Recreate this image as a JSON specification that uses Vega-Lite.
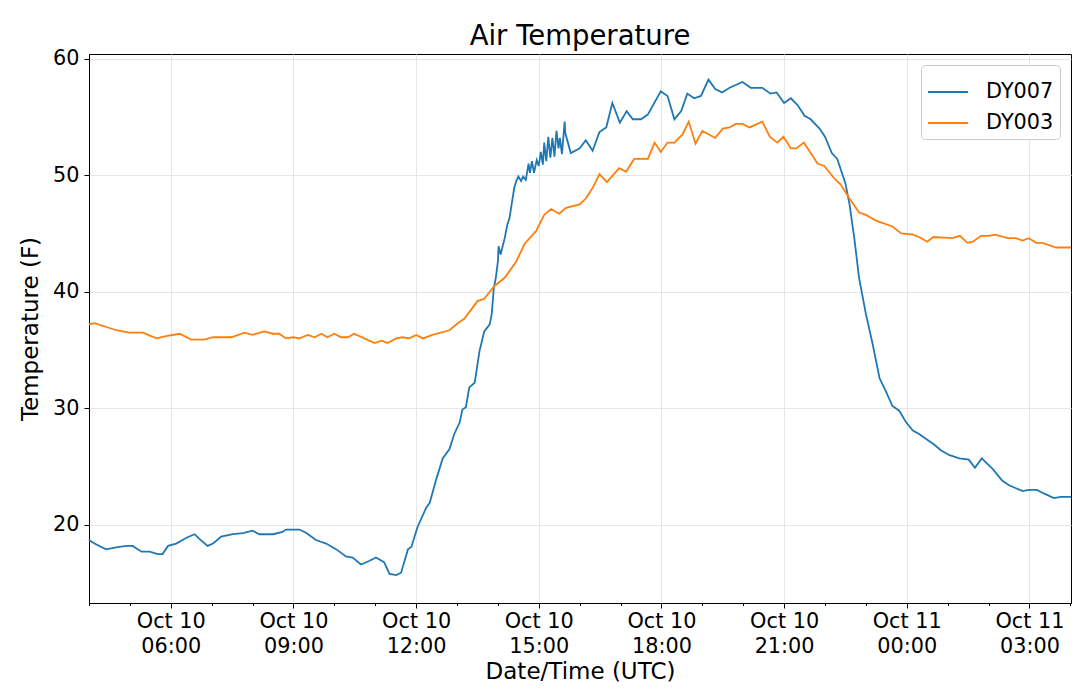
{
  "$schema": "https://vega.github.io/schema/vega-lite/v6.json",
  "width": 982,
  "height": 549,
  "autosize": "none",
  "padding": {"left": 89, "top": 54, "right": 9, "bottom": 94},
  "background": "white",
  "title": {
    "text": "Air Temperature",
    "fontSize": 27.5,
    "fontWeight": "normal",
    "color": "black",
    "anchor": "middle",
    "offset": -3
  },
  "data": {
    "format": {"parse": {"time": "utc:'%Y-%m-%d %H:%M'", "temp": "number"}},
    "values": [
      {"time": "2019-10-10 04:00", "temp": 18.7, "sensor": "DY007"},
      {"time": "2019-10-10 04:08", "temp": 18.4, "sensor": "DY007"},
      {"time": "2019-10-10 04:25", "temp": 17.9, "sensor": "DY007"},
      {"time": "2019-10-10 04:42", "temp": 18.1, "sensor": "DY007"},
      {"time": "2019-10-10 04:55", "temp": 18.2, "sensor": "DY007"},
      {"time": "2019-10-10 05:04", "temp": 18.2, "sensor": "DY007"},
      {"time": "2019-10-10 05:17", "temp": 17.7, "sensor": "DY007"},
      {"time": "2019-10-10 05:29", "temp": 17.7, "sensor": "DY007"},
      {"time": "2019-10-10 05:41", "temp": 17.5, "sensor": "DY007"},
      {"time": "2019-10-10 05:48", "temp": 17.5, "sensor": "DY007"},
      {"time": "2019-10-10 05:56", "temp": 18.2, "sensor": "DY007"},
      {"time": "2019-10-10 06:08", "temp": 18.4, "sensor": "DY007"},
      {"time": "2019-10-10 06:23", "temp": 18.9, "sensor": "DY007"},
      {"time": "2019-10-10 06:35", "temp": 19.2, "sensor": "DY007"},
      {"time": "2019-10-10 06:42", "temp": 18.8, "sensor": "DY007"},
      {"time": "2019-10-10 06:54", "temp": 18.2, "sensor": "DY007"},
      {"time": "2019-10-10 07:02", "temp": 18.4, "sensor": "DY007"},
      {"time": "2019-10-10 07:14", "temp": 19.0, "sensor": "DY007"},
      {"time": "2019-10-10 07:31", "temp": 19.2, "sensor": "DY007"},
      {"time": "2019-10-10 07:46", "temp": 19.3, "sensor": "DY007"},
      {"time": "2019-10-10 08:00", "temp": 19.5, "sensor": "DY007"},
      {"time": "2019-10-10 08:10", "temp": 19.2, "sensor": "DY007"},
      {"time": "2019-10-10 08:30", "temp": 19.2, "sensor": "DY007"},
      {"time": "2019-10-10 08:44", "temp": 19.4, "sensor": "DY007"},
      {"time": "2019-10-10 08:49", "temp": 19.6, "sensor": "DY007"},
      {"time": "2019-10-10 09:09", "temp": 19.6, "sensor": "DY007"},
      {"time": "2019-10-10 09:19", "temp": 19.3, "sensor": "DY007"},
      {"time": "2019-10-10 09:33", "temp": 18.7, "sensor": "DY007"},
      {"time": "2019-10-10 09:48", "temp": 18.4, "sensor": "DY007"},
      {"time": "2019-10-10 10:03", "temp": 17.9, "sensor": "DY007"},
      {"time": "2019-10-10 10:17", "temp": 17.3, "sensor": "DY007"},
      {"time": "2019-10-10 10:27", "temp": 17.2, "sensor": "DY007"},
      {"time": "2019-10-10 10:39", "temp": 16.6, "sensor": "DY007"},
      {"time": "2019-10-10 10:51", "temp": 16.9, "sensor": "DY007"},
      {"time": "2019-10-10 11:01", "temp": 17.2, "sensor": "DY007"},
      {"time": "2019-10-10 11:13", "temp": 16.8, "sensor": "DY007"},
      {"time": "2019-10-10 11:21", "temp": 15.8, "sensor": "DY007"},
      {"time": "2019-10-10 11:31", "temp": 15.7, "sensor": "DY007"},
      {"time": "2019-10-10 11:38", "temp": 15.9, "sensor": "DY007"},
      {"time": "2019-10-10 11:48", "temp": 17.9, "sensor": "DY007"},
      {"time": "2019-10-10 11:53", "temp": 18.1, "sensor": "DY007"},
      {"time": "2019-10-10 12:02", "temp": 19.8, "sensor": "DY007"},
      {"time": "2019-10-10 12:15", "temp": 21.5, "sensor": "DY007"},
      {"time": "2019-10-10 12:20", "temp": 21.9, "sensor": "DY007"},
      {"time": "2019-10-10 12:29", "temp": 23.8, "sensor": "DY007"},
      {"time": "2019-10-10 12:39", "temp": 25.7, "sensor": "DY007"},
      {"time": "2019-10-10 12:49", "temp": 26.5, "sensor": "DY007"},
      {"time": "2019-10-10 12:56", "temp": 27.8, "sensor": "DY007"},
      {"time": "2019-10-10 13:04", "temp": 28.8, "sensor": "DY007"},
      {"time": "2019-10-10 13:08", "temp": 29.9, "sensor": "DY007"},
      {"time": "2019-10-10 13:13", "temp": 30.1, "sensor": "DY007"},
      {"time": "2019-10-10 13:18", "temp": 31.8, "sensor": "DY007"},
      {"time": "2019-10-10 13:26", "temp": 32.2, "sensor": "DY007"},
      {"time": "2019-10-10 13:33", "temp": 34.9, "sensor": "DY007"},
      {"time": "2019-10-10 13:40", "temp": 36.6, "sensor": "DY007"},
      {"time": "2019-10-10 13:48", "temp": 37.2, "sensor": "DY007"},
      {"time": "2019-10-10 13:51", "temp": 38.1, "sensor": "DY007"},
      {"time": "2019-10-10 13:54", "temp": 40.3, "sensor": "DY007"},
      {"time": "2019-10-10 13:57", "temp": 41.2, "sensor": "DY007"},
      {"time": "2019-10-10 14:00", "temp": 42.6, "sensor": "DY007"},
      {"time": "2019-10-10 14:01", "temp": 43.9, "sensor": "DY007"},
      {"time": "2019-10-10 14:04", "temp": 43.2, "sensor": "DY007"},
      {"time": "2019-10-10 14:10", "temp": 44.6, "sensor": "DY007"},
      {"time": "2019-10-10 14:14", "temp": 45.8, "sensor": "DY007"},
      {"time": "2019-10-10 14:17", "temp": 46.3, "sensor": "DY007"},
      {"time": "2019-10-10 14:21", "temp": 47.8, "sensor": "DY007"},
      {"time": "2019-10-10 14:24", "temp": 48.9, "sensor": "DY007"},
      {"time": "2019-10-10 14:27", "temp": 49.5, "sensor": "DY007"},
      {"time": "2019-10-10 14:30", "temp": 49.9, "sensor": "DY007"},
      {"time": "2019-10-10 14:34", "temp": 49.5, "sensor": "DY007"},
      {"time": "2019-10-10 14:37", "temp": 49.9, "sensor": "DY007"},
      {"time": "2019-10-10 14:41", "temp": 49.6, "sensor": "DY007"},
      {"time": "2019-10-10 14:45", "temp": 51.0, "sensor": "DY007"},
      {"time": "2019-10-10 14:47", "temp": 50.2, "sensor": "DY007"},
      {"time": "2019-10-10 14:50", "temp": 51.2, "sensor": "DY007"},
      {"time": "2019-10-10 14:53", "temp": 50.2, "sensor": "DY007"},
      {"time": "2019-10-10 14:57", "temp": 51.3, "sensor": "DY007"},
      {"time": "2019-10-10 15:00", "temp": 50.8, "sensor": "DY007"},
      {"time": "2019-10-10 15:03", "temp": 52.0, "sensor": "DY007"},
      {"time": "2019-10-10 15:06", "temp": 50.9, "sensor": "DY007"},
      {"time": "2019-10-10 15:08", "temp": 52.8, "sensor": "DY007"},
      {"time": "2019-10-10 15:11", "temp": 51.2, "sensor": "DY007"},
      {"time": "2019-10-10 15:14", "temp": 53.3, "sensor": "DY007"},
      {"time": "2019-10-10 15:17", "temp": 51.5, "sensor": "DY007"},
      {"time": "2019-10-10 15:20", "temp": 53.2, "sensor": "DY007"},
      {"time": "2019-10-10 15:23", "temp": 51.6, "sensor": "DY007"},
      {"time": "2019-10-10 15:26", "temp": 53.8, "sensor": "DY007"},
      {"time": "2019-10-10 15:29", "temp": 52.3, "sensor": "DY007"},
      {"time": "2019-10-10 15:31", "temp": 53.2, "sensor": "DY007"},
      {"time": "2019-10-10 15:34", "temp": 51.8, "sensor": "DY007"},
      {"time": "2019-10-10 15:38", "temp": 54.6, "sensor": "DY007"},
      {"time": "2019-10-10 15:39", "temp": 53.6, "sensor": "DY007"},
      {"time": "2019-10-10 15:47", "temp": 51.9, "sensor": "DY007"},
      {"time": "2019-10-10 16:00", "temp": 52.3, "sensor": "DY007"},
      {"time": "2019-10-10 16:09", "temp": 53.0, "sensor": "DY007"},
      {"time": "2019-10-10 16:19", "temp": 52.1, "sensor": "DY007"},
      {"time": "2019-10-10 16:29", "temp": 53.7, "sensor": "DY007"},
      {"time": "2019-10-10 16:39", "temp": 54.1, "sensor": "DY007"},
      {"time": "2019-10-10 16:48", "temp": 56.2, "sensor": "DY007"},
      {"time": "2019-10-10 16:59", "temp": 54.5, "sensor": "DY007"},
      {"time": "2019-10-10 17:09", "temp": 55.5, "sensor": "DY007"},
      {"time": "2019-10-10 17:18", "temp": 54.8, "sensor": "DY007"},
      {"time": "2019-10-10 17:30", "temp": 54.8, "sensor": "DY007"},
      {"time": "2019-10-10 17:40", "temp": 55.2, "sensor": "DY007"},
      {"time": "2019-10-10 17:59", "temp": 57.2, "sensor": "DY007"},
      {"time": "2019-10-10 18:09", "temp": 56.8, "sensor": "DY007"},
      {"time": "2019-10-10 18:19", "temp": 54.8, "sensor": "DY007"},
      {"time": "2019-10-10 18:29", "temp": 55.5, "sensor": "DY007"},
      {"time": "2019-10-10 18:38", "temp": 57.0, "sensor": "DY007"},
      {"time": "2019-10-10 18:48", "temp": 56.6, "sensor": "DY007"},
      {"time": "2019-10-10 18:58", "temp": 56.8, "sensor": "DY007"},
      {"time": "2019-10-10 19:09", "temp": 58.2, "sensor": "DY007"},
      {"time": "2019-10-10 19:19", "temp": 57.4, "sensor": "DY007"},
      {"time": "2019-10-10 19:29", "temp": 57.1, "sensor": "DY007"},
      {"time": "2019-10-10 19:40", "temp": 57.5, "sensor": "DY007"},
      {"time": "2019-10-10 19:59", "temp": 58.0, "sensor": "DY007"},
      {"time": "2019-10-10 20:11", "temp": 57.5, "sensor": "DY007"},
      {"time": "2019-10-10 20:28", "temp": 57.5, "sensor": "DY007"},
      {"time": "2019-10-10 20:40", "temp": 57.0, "sensor": "DY007"},
      {"time": "2019-10-10 20:49", "temp": 57.1, "sensor": "DY007"},
      {"time": "2019-10-10 21:00", "temp": 56.2, "sensor": "DY007"},
      {"time": "2019-10-10 21:10", "temp": 56.6, "sensor": "DY007"},
      {"time": "2019-10-10 21:20", "temp": 56.0, "sensor": "DY007"},
      {"time": "2019-10-10 21:30", "temp": 55.1, "sensor": "DY007"},
      {"time": "2019-10-10 21:39", "temp": 54.8, "sensor": "DY007"},
      {"time": "2019-10-10 21:52", "temp": 54.0, "sensor": "DY007"},
      {"time": "2019-10-10 22:00", "temp": 53.3, "sensor": "DY007"},
      {"time": "2019-10-10 22:10", "temp": 51.9, "sensor": "DY007"},
      {"time": "2019-10-10 22:18", "temp": 51.4, "sensor": "DY007"},
      {"time": "2019-10-10 22:30", "temp": 49.3, "sensor": "DY007"},
      {"time": "2019-10-10 22:36", "temp": 47.5, "sensor": "DY007"},
      {"time": "2019-10-10 22:43", "temp": 44.6, "sensor": "DY007"},
      {"time": "2019-10-10 22:50", "temp": 41.2, "sensor": "DY007"},
      {"time": "2019-10-10 23:00", "temp": 38.1, "sensor": "DY007"},
      {"time": "2019-10-10 23:10", "temp": 35.5, "sensor": "DY007"},
      {"time": "2019-10-10 23:20", "temp": 32.6, "sensor": "DY007"},
      {"time": "2019-10-10 23:29", "temp": 31.5, "sensor": "DY007"},
      {"time": "2019-10-10 23:39", "temp": 30.2, "sensor": "DY007"},
      {"time": "2019-10-10 23:49", "temp": 29.8, "sensor": "DY007"},
      {"time": "2019-10-10 23:59", "temp": 28.8, "sensor": "DY007"},
      {"time": "2019-10-11 00:09", "temp": 28.1, "sensor": "DY007"},
      {"time": "2019-10-11 00:18", "temp": 27.8, "sensor": "DY007"},
      {"time": "2019-10-11 00:28", "temp": 27.4, "sensor": "DY007"},
      {"time": "2019-10-11 00:40", "temp": 26.9, "sensor": "DY007"},
      {"time": "2019-10-11 00:50", "temp": 26.4, "sensor": "DY007"},
      {"time": "2019-10-11 01:02", "temp": 26.0, "sensor": "DY007"},
      {"time": "2019-10-11 01:17", "temp": 25.7, "sensor": "DY007"},
      {"time": "2019-10-11 01:31", "temp": 25.6, "sensor": "DY007"},
      {"time": "2019-10-11 01:40", "temp": 24.9, "sensor": "DY007"},
      {"time": "2019-10-11 01:50", "temp": 25.7, "sensor": "DY007"},
      {"time": "2019-10-11 02:06", "temp": 24.8, "sensor": "DY007"},
      {"time": "2019-10-11 02:20", "temp": 23.8, "sensor": "DY007"},
      {"time": "2019-10-11 02:30", "temp": 23.4, "sensor": "DY007"},
      {"time": "2019-10-11 02:50", "temp": 22.9, "sensor": "DY007"},
      {"time": "2019-10-11 02:59", "temp": 23.0, "sensor": "DY007"},
      {"time": "2019-10-11 03:11", "temp": 23.0, "sensor": "DY007"},
      {"time": "2019-10-11 03:21", "temp": 22.7, "sensor": "DY007"},
      {"time": "2019-10-11 03:36", "temp": 22.3, "sensor": "DY007"},
      {"time": "2019-10-11 03:46", "temp": 22.4, "sensor": "DY007"},
      {"time": "2019-10-11 04:01", "temp": 22.4, "sensor": "DY007"},
      {"time": "2019-10-10 04:00", "temp": 37.2, "sensor": "DY003"},
      {"time": "2019-10-10 04:08", "temp": 37.3, "sensor": "DY003"},
      {"time": "2019-10-10 04:40", "temp": 36.7, "sensor": "DY003"},
      {"time": "2019-10-10 04:59", "temp": 36.5, "sensor": "DY003"},
      {"time": "2019-10-10 05:19", "temp": 36.5, "sensor": "DY003"},
      {"time": "2019-10-10 05:39", "temp": 36.0, "sensor": "DY003"},
      {"time": "2019-10-10 05:53", "temp": 36.2, "sensor": "DY003"},
      {"time": "2019-10-10 06:13", "temp": 36.4, "sensor": "DY003"},
      {"time": "2019-10-10 06:30", "temp": 35.9, "sensor": "DY003"},
      {"time": "2019-10-10 06:49", "temp": 35.9, "sensor": "DY003"},
      {"time": "2019-10-10 07:02", "temp": 36.1, "sensor": "DY003"},
      {"time": "2019-10-10 07:29", "temp": 36.1, "sensor": "DY003"},
      {"time": "2019-10-10 07:48", "temp": 36.5, "sensor": "DY003"},
      {"time": "2019-10-10 08:00", "temp": 36.3, "sensor": "DY003"},
      {"time": "2019-10-10 08:17", "temp": 36.6, "sensor": "DY003"},
      {"time": "2019-10-10 08:30", "temp": 36.4, "sensor": "DY003"},
      {"time": "2019-10-10 08:39", "temp": 36.4, "sensor": "DY003"},
      {"time": "2019-10-10 08:49", "temp": 36.0, "sensor": "DY003"},
      {"time": "2019-10-10 08:59", "temp": 36.1, "sensor": "DY003"},
      {"time": "2019-10-10 09:09", "temp": 36.0, "sensor": "DY003"},
      {"time": "2019-10-10 09:21", "temp": 36.3, "sensor": "DY003"},
      {"time": "2019-10-10 09:31", "temp": 36.1, "sensor": "DY003"},
      {"time": "2019-10-10 09:41", "temp": 36.4, "sensor": "DY003"},
      {"time": "2019-10-10 09:50", "temp": 36.1, "sensor": "DY003"},
      {"time": "2019-10-10 10:00", "temp": 36.4, "sensor": "DY003"},
      {"time": "2019-10-10 10:10", "temp": 36.1, "sensor": "DY003"},
      {"time": "2019-10-10 10:20", "temp": 36.1, "sensor": "DY003"},
      {"time": "2019-10-10 10:29", "temp": 36.4, "sensor": "DY003"},
      {"time": "2019-10-10 10:44", "temp": 36.0, "sensor": "DY003"},
      {"time": "2019-10-10 10:59", "temp": 35.6, "sensor": "DY003"},
      {"time": "2019-10-10 11:09", "temp": 35.8, "sensor": "DY003"},
      {"time": "2019-10-10 11:18", "temp": 35.6, "sensor": "DY003"},
      {"time": "2019-10-10 11:31", "temp": 36.0, "sensor": "DY003"},
      {"time": "2019-10-10 11:40", "temp": 36.1, "sensor": "DY003"},
      {"time": "2019-10-10 11:50", "temp": 36.0, "sensor": "DY003"},
      {"time": "2019-10-10 12:00", "temp": 36.3, "sensor": "DY003"},
      {"time": "2019-10-10 12:10", "temp": 36.0, "sensor": "DY003"},
      {"time": "2019-10-10 12:24", "temp": 36.3, "sensor": "DY003"},
      {"time": "2019-10-10 12:49", "temp": 36.7, "sensor": "DY003"},
      {"time": "2019-10-10 13:01", "temp": 37.3, "sensor": "DY003"},
      {"time": "2019-10-10 13:11", "temp": 37.7, "sensor": "DY003"},
      {"time": "2019-10-10 13:30", "temp": 39.2, "sensor": "DY003"},
      {"time": "2019-10-10 13:40", "temp": 39.4, "sensor": "DY003"},
      {"time": "2019-10-10 13:55", "temp": 40.5, "sensor": "DY003"},
      {"time": "2019-10-10 14:10", "temp": 41.2, "sensor": "DY003"},
      {"time": "2019-10-10 14:27", "temp": 42.6, "sensor": "DY003"},
      {"time": "2019-10-10 14:39", "temp": 44.1, "sensor": "DY003"},
      {"time": "2019-10-10 14:56", "temp": 45.2, "sensor": "DY003"},
      {"time": "2019-10-10 15:08", "temp": 46.6, "sensor": "DY003"},
      {"time": "2019-10-10 15:18", "temp": 47.1, "sensor": "DY003"},
      {"time": "2019-10-10 15:30", "temp": 46.7, "sensor": "DY003"},
      {"time": "2019-10-10 15:40", "temp": 47.2, "sensor": "DY003"},
      {"time": "2019-10-10 16:00", "temp": 47.5, "sensor": "DY003"},
      {"time": "2019-10-10 16:09", "temp": 48.0, "sensor": "DY003"},
      {"time": "2019-10-10 16:19", "temp": 48.9, "sensor": "DY003"},
      {"time": "2019-10-10 16:29", "temp": 50.1, "sensor": "DY003"},
      {"time": "2019-10-10 16:40", "temp": 49.4, "sensor": "DY003"},
      {"time": "2019-10-10 16:58", "temp": 50.6, "sensor": "DY003"},
      {"time": "2019-10-10 17:08", "temp": 50.3, "sensor": "DY003"},
      {"time": "2019-10-10 17:20", "temp": 51.4, "sensor": "DY003"},
      {"time": "2019-10-10 17:40", "temp": 51.4, "sensor": "DY003"},
      {"time": "2019-10-10 17:50", "temp": 52.8, "sensor": "DY003"},
      {"time": "2019-10-10 17:59", "temp": 52.0, "sensor": "DY003"},
      {"time": "2019-10-10 18:09", "temp": 52.8, "sensor": "DY003"},
      {"time": "2019-10-10 18:19", "temp": 52.8, "sensor": "DY003"},
      {"time": "2019-10-10 18:31", "temp": 53.5, "sensor": "DY003"},
      {"time": "2019-10-10 18:40", "temp": 54.6, "sensor": "DY003"},
      {"time": "2019-10-10 18:50", "temp": 52.7, "sensor": "DY003"},
      {"time": "2019-10-10 19:00", "temp": 53.8, "sensor": "DY003"},
      {"time": "2019-10-10 19:19", "temp": 53.2, "sensor": "DY003"},
      {"time": "2019-10-10 19:30", "temp": 54.0, "sensor": "DY003"},
      {"time": "2019-10-10 19:40", "temp": 54.1, "sensor": "DY003"},
      {"time": "2019-10-10 19:49", "temp": 54.4, "sensor": "DY003"},
      {"time": "2019-10-10 19:59", "temp": 54.4, "sensor": "DY003"},
      {"time": "2019-10-10 20:09", "temp": 54.1, "sensor": "DY003"},
      {"time": "2019-10-10 20:28", "temp": 54.6, "sensor": "DY003"},
      {"time": "2019-10-10 20:39", "temp": 53.3, "sensor": "DY003"},
      {"time": "2019-10-10 20:50", "temp": 52.8, "sensor": "DY003"},
      {"time": "2019-10-10 20:59", "temp": 53.3, "sensor": "DY003"},
      {"time": "2019-10-10 21:10", "temp": 52.3, "sensor": "DY003"},
      {"time": "2019-10-10 21:18", "temp": 52.3, "sensor": "DY003"},
      {"time": "2019-10-10 21:29", "temp": 52.8, "sensor": "DY003"},
      {"time": "2019-10-10 21:49", "temp": 51.0, "sensor": "DY003"},
      {"time": "2019-10-10 21:59", "temp": 50.8, "sensor": "DY003"},
      {"time": "2019-10-10 22:14", "temp": 49.7, "sensor": "DY003"},
      {"time": "2019-10-10 22:23", "temp": 49.2, "sensor": "DY003"},
      {"time": "2019-10-10 22:36", "temp": 48.0, "sensor": "DY003"},
      {"time": "2019-10-10 22:50", "temp": 46.8, "sensor": "DY003"},
      {"time": "2019-10-10 23:00", "temp": 46.6, "sensor": "DY003"},
      {"time": "2019-10-10 23:15", "temp": 46.1, "sensor": "DY003"},
      {"time": "2019-10-10 23:39", "temp": 45.6, "sensor": "DY003"},
      {"time": "2019-10-10 23:52", "temp": 45.0, "sensor": "DY003"},
      {"time": "2019-10-11 00:09", "temp": 44.9, "sensor": "DY003"},
      {"time": "2019-10-11 00:18", "temp": 44.7, "sensor": "DY003"},
      {"time": "2019-10-11 00:30", "temp": 44.3, "sensor": "DY003"},
      {"time": "2019-10-11 00:39", "temp": 44.7, "sensor": "DY003"},
      {"time": "2019-10-11 01:07", "temp": 44.6, "sensor": "DY003"},
      {"time": "2019-10-11 01:18", "temp": 44.8, "sensor": "DY003"},
      {"time": "2019-10-11 01:29", "temp": 44.2, "sensor": "DY003"},
      {"time": "2019-10-11 01:37", "temp": 44.3, "sensor": "DY003"},
      {"time": "2019-10-11 01:49", "temp": 44.8, "sensor": "DY003"},
      {"time": "2019-10-11 02:00", "temp": 44.8, "sensor": "DY003"},
      {"time": "2019-10-11 02:10", "temp": 44.9, "sensor": "DY003"},
      {"time": "2019-10-11 02:28", "temp": 44.6, "sensor": "DY003"},
      {"time": "2019-10-11 02:40", "temp": 44.6, "sensor": "DY003"},
      {"time": "2019-10-11 02:50", "temp": 44.4, "sensor": "DY003"},
      {"time": "2019-10-11 02:59", "temp": 44.6, "sensor": "DY003"},
      {"time": "2019-10-11 03:10", "temp": 44.2, "sensor": "DY003"},
      {"time": "2019-10-11 03:19", "temp": 44.2, "sensor": "DY003"},
      {"time": "2019-10-11 03:39", "temp": 43.8, "sensor": "DY003"},
      {"time": "2019-10-11 04:01", "temp": 43.8, "sensor": "DY003"}
    ]
  },
  "layer": [
    {
      "mark": {"type": "line", "strokeOpacity": 0},
      "encoding": {
        "x": {
          "field": "time",
          "type": "temporal",
          "scale": {"type": "utc", "nice": false},
          "axis": {
            "orient": "bottom",
            "title": null,
            "tickCount": 24,
            "tickSize": 2.5,
            "labels": false,
            "grid": false,
            "domain": false
          }
        },
        "y": {"field": "temp", "type": "quantitative"},
        "detail": {"field": "sensor"}
      }
    },
    {
      "mark": {"type": "line", "strokeWidth": 1.8},
      "encoding": {
        "x": {
          "field": "time",
          "type": "temporal",
          "axis": {
            "orient": "bottom",
            "title": "Date/Time (UTC)",
            "tickCount": 8,
            "grid": true,
            "labelExpr": "[utcFormat(datum.value, '%b %d'), utcFormat(datum.value, '%H:%M')]",
            "labelOverlap": false,
            "labelFlush": false,
            "labelLineHeight": 25,
            "labelPadding": 3,
            "titlePadding": 5
          }
        },
        "y": {
          "field": "temp",
          "type": "quantitative",
          "scale": {"domain": [13.3, 60.4], "nice": false, "zero": false},
          "axis": {
            "title": "Temperature (F)",
            "values": [20, 30, 40, 50, 60],
            "labelPadding": 5,
            "titlePadding": 10
          }
        },
        "color": {
          "field": "sensor",
          "type": "nominal",
          "sort": ["DY007", "DY003"],
          "scale": {"domain": ["DY007", "DY003"], "range": ["#1f77b4", "#ff7f0e"]},
          "legend": {
            "title": null,
            "orient": "top-right",
            "offset": 11,
            "symbolType": "stroke",
            "symbolSize": 1600,
            "symbolStrokeWidth": 2,
            "labelFontSize": 20.8,
            "labelColor": "black",
            "labelOffset": 17,
            "rowPadding": -5,
            "padding": 6,
            "strokeColor": "#cccccc",
            "fillColor": "white",
            "cornerRadius": 4
          }
        }
      }
    }
  ],
  "resolve": {"axis": {"x": "independent"}},
  "config": {
    "font": "DejaVu Sans",
    "view": {"stroke": "black", "strokeWidth": 1},
    "axis": {
      "domainColor": "black",
      "tickColor": "black",
      "tickSize": 5,
      "gridColor": "#e6e6e6",
      "labelFontSize": 20.8,
      "labelColor": "black",
      "titleFontSize": 23,
      "titleFontWeight": "normal",
      "titleColor": "black"
    }
  }
}
